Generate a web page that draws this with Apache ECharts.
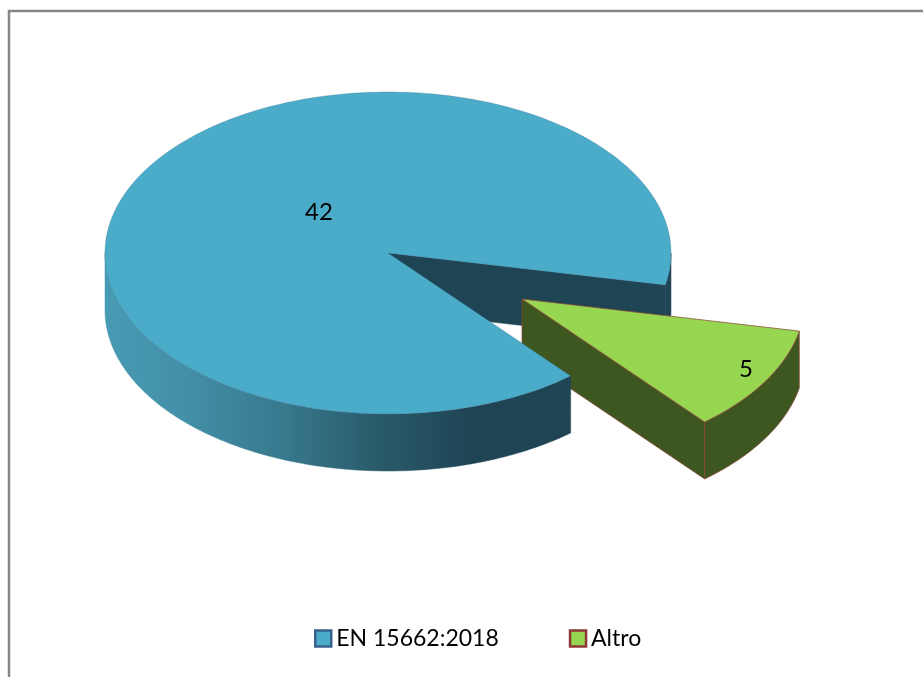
<!DOCTYPE html>
<html>
<head>
<meta charset="utf-8">
<style>html,body{margin:0;padding:0;background:#fff}#c{width:923px;height:677px}</style>
<script src="https://cdn.jsdelivr.net/npm/echarts@6/dist/echarts.min.js"></script>
</head>
<body>
<div id="c"></div>
<script>
const categories = ['EN 15662:2018', 'Altro'];
const values = [42, 5];

const topColors = ['#4BACC9', '#96D650'];
const wallColors = ['#1F4555', '#3E5620'];
const strokeColors = ['rgba(45,105,140,0.3)', 'rgba(140,70,55,0.7)'];
const legendBorders = ['#38608C', '#8C3836'];
const explode = [[0, 0], [134, 46]];
const labelScale = [[0.2835, 0.499], [0.92, 0.85]];

const CX = 388, CY = 253, RX = 283, RY = 161, DEPTH = 57, START = 49.8;
const total = values.reduce((a, b) => a + b, 0);

function sliceAngles(i) {
  let a = START;
  for (let k = 0; k < i; k++) a += values[k] / total * 360;
  return [a, a + values[i] / total * 360];
}
function pt(i, deg, dy) {
  const r = deg * Math.PI / 180;
  return [CX + explode[i][0] + RX * Math.cos(r), CY + explode[i][1] + RY * Math.sin(r) + (dy || 0)];
}
function arc(i, a0, a1, dy) {
  const pts = [], n = Math.max(2, Math.ceil(Math.abs(a1 - a0)));
  for (let k = 0; k <= n; k++) pts.push(pt(i, a0 + (a1 - a0) * k / n, dy));
  return pts;
}
function apex(i, dy) {
  return [CX + explode[i][0], CY + explode[i][1] + (dy || 0)];
}
function poly(points, fill, stroke) {
  return { type: 'polygon', silent: true, shape: { points: points },
           style: { fill: fill, stroke: stroke || fill, lineWidth: stroke ? 1 : 0.5 } };
}
function outerWall(i, a0, a1, fill, stroke) {
  return poly(arc(i, a0, a1, 0).concat(arc(i, a1, a0, DEPTH)), fill, stroke);
}
const blueRim = {
  type: 'linear', global: true, x: 105, y: 0, x2: 470, y2: 0,
  colorStops: [
    { offset: 0, color: '#479BB3' }, { offset: 0.2, color: '#4391A9' },
    { offset: 0.5, color: '#37788C' }, { offset: 0.75, color: '#295A69' },
    { offset: 1, color: wallColors[0] }
  ]
};
// rear cut wall of the large slice, drawn under the detached slice
function renderBack() {
  const end = sliceAngles(0)[1];
  return { type: 'group', children: [
    outerWall(0, 360, end, wallColors[0]),
    poly([apex(0), pt(0, end), pt(0, end, DEPTH), apex(0, DEPTH)], wallColors[0])
  ] };
}
function renderSlice(i) {
  return function (params, api) {
    const [a0, a1] = sliceAngles(i);
    const mid = (a0 + a1) / 2 * Math.PI / 180;
    const a = apex(i);
    const children = [];
    if (i === 0) {
      children.push(outerWall(0, a0, 180, blueRim));
    } else {
      const s = strokeColors[1];
      children.push(poly([a, pt(1, a1), pt(1, a1, DEPTH), apex(1, DEPTH)], wallColors[1], s));
      children.push(outerWall(1, a0 % 360, a1 % 360 || a1, wallColors[1], s));
    }
    children.push(poly([a].concat(arc(i, a0, a1, 0)), topColors[i], strokeColors[i]));
    children.push({
      type: 'text', silent: true,
      style: {
        x: a[0] + RX * labelScale[i][0] * Math.cos(mid),
        y: a[1] + RY * labelScale[i][1] * Math.sin(mid),
        text: String(api.value(0)), fill: '#000',
        font: '24px Lato', align: 'center', verticalAlign: 'middle'
      }
    });
    return { type: 'group', children: children };
  };
}
const chart = echarts.init(document.getElementById('c'), null, { renderer: 'canvas' });
chart.setOption({
  animation: false,
  backgroundColor: '#fff',
  graphic: [{
    type: 'rect', silent: true, z: 0,
    shape: { x: 9, y: 11, width: 1200, height: 1200 },
    style: { fill: 'none', stroke: '#868686', lineWidth: 2.5 }
  }],
  legend: {
    left: 314, top: 627, padding: 0, itemWidth: 16, itemHeight: 16, itemGap: 70,
    icon: 'rect', selectedMode: false,
    textStyle: { fontFamily: 'Lato', fontSize: 23, color: '#000' },
    data: categories.map((n, i) => ({
      name: n, icon: 'rect',
      itemStyle: { color: topColors[i], borderColor: legendBorders[i], borderWidth: 2.5 }
    }))
  },
  series: [
    { type: 'custom', name: categories[0], coordinateSystem: 'none', z: 1, data: [[values[0]]], renderItem: renderBack },
    { type: 'custom', name: categories[1], coordinateSystem: 'none', z: 2, data: [[values[1]]], renderItem: renderSlice(1) },
    { type: 'custom', name: categories[0], coordinateSystem: 'none', z: 3, data: [[values[0]]], renderItem: renderSlice(0) }
  ]
});
</script>
</body>
</html>
